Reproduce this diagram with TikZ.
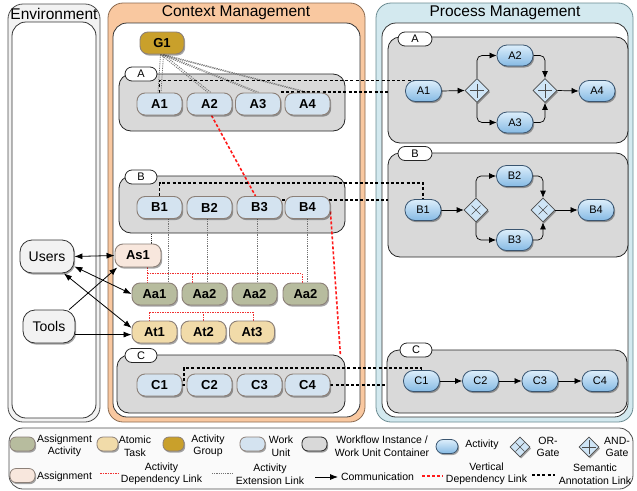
\documentclass[tikz,border=0pt]{standalone}
\usepackage{fontspec}
\setmainfont{Liberation Sans}
\usetikzlibrary{shapes.geometric,shadows,arrows.meta,calc}
\definecolor{envfill}{HTML}{F2F2F2}
\definecolor{ctxfill}{HTML}{F9C8A0}
\definecolor{ctxbord}{HTML}{8B6A50}
\definecolor{prcfill}{HTML}{D3E9EF}
\definecolor{prcbord}{HTML}{6A8A90}
\definecolor{contfill}{HTML}{D9D9D9}
\definecolor{wuc}{HTML}{D4E3F0}
\definecolor{cnb}{HTML}{8C8078}
\definecolor{aac}{HTML}{B7BC9E}
\definecolor{atc}{HTML}{F1DBA9}
\definecolor{grpc}{HTML}{C9A02B}
\definecolor{asc}{HTML}{F8E7DD}
\definecolor{pntop}{HTML}{DCEEFB}
\definecolor{pnbot}{HTML}{86BAE4}
\definecolor{pnbord}{HTML}{3A5570}
\definecolor{gtc}{HTML}{CFE5F6}
\definecolor{vred}{HTML}{FF1A1A}
\definecolor{dred}{HTML}{F03030}
\pgfdeclarelayer{bg}
\pgfdeclarelayer{mid}
\pgfsetlayers{bg,mid,main}
\begin{document}
\begin{tikzpicture}[x=1pt,y=-1pt,
  shd/.style={drop shadow={shadow xshift=1.2pt,shadow yshift=-1.6pt,opacity=0.35,fill=black}},
  cn/.style={draw=cnb,line width=0.9pt,rounded corners=8pt,minimum width=45pt,minimum height=22pt,inner sep=1pt,font=\fontsize{13}{13}\selectfont\bfseries,shd},
  wustyle/.style={cn,fill=wuc},
  aastyle/.style={cn,fill=aac},
  atstyle/.style={cn,fill=atc},
  asstyle/.style={cn,fill=asc,minimum width=46pt,minimum height=23pt},
  grpstyle/.style={cn,fill=grpc,minimum width=44pt},
  envnode/.style={draw=black!80,line width=0.8pt,fill=envfill,rounded corners=12pt,minimum height=33pt,font=\fontsize{14}{14}\selectfont,shd},
  cont/.style={draw=black!85,line width=0.8pt,fill=contfill,rounded corners=12pt,inner sep=0pt},
  tabstyle/.style={draw=black!85,line width=0.8pt,fill=white,rounded corners=7pt,minimum width=32pt,minimum height=14pt,inner sep=0pt,font=\fontsize{11}{11}\selectfont},
  pn/.style={draw=pnbord,line width=0.8pt,rounded corners=10pt,minimum width=36pt,minimum height=21pt,inner sep=1pt,top color=pntop,bottom color=pnbot,font=\fontsize{11}{11}\selectfont,shd},
  gate/.style={diamond,draw=black!70,line width=0.7pt,fill=gtc,minimum width=24pt,minimum height=24pt,inner sep=0pt,shd},
  andg/.style={gate,path picture={
     \draw[line width=0.6pt] ([xshift=-7pt]path picture bounding box.center) -- ([xshift=7pt]path picture bounding box.center);
     \draw[line width=0.6pt] ([yshift=-7pt]path picture bounding box.center) -- ([yshift=7pt]path picture bounding box.center);}},
  org/.style={gate,path picture={
     \draw[line width=0.6pt] ([shift={(-4.5pt,-4.5pt)}]path picture bounding box.center) -- ([shift={(4.5pt,4.5pt)}]path picture bounding box.center);
     \draw[line width=0.6pt] ([shift={(-4.5pt,4.5pt)}]path picture bounding box.center) -- ([shift={(4.5pt,-4.5pt)}]path picture bounding box.center);}},
  title/.style={font=\fontsize{15.5}{16}\selectfont},
  sem/.style={line width=1.6pt,dash pattern=on 3pt off 2.2pt,black},
  vdep/.style={line width=1.6pt,dash pattern=on 3pt off 2pt,vred},
  dep/.style={line width=0.8pt,dash pattern=on 1.5pt off 1pt,dred},
  ext/.style={line width=0.8pt,dash pattern=on 1.2pt off 1pt,black!55},
  comm/.style={line width=0.8pt,black},
  flow/.style={line width=0.7pt,-{Latex[length=7pt,width=6pt]}},
  lsw/.style={draw=cnb,line width=0.8pt,rounded corners=6pt,minimum width=25pt,minimum height=14pt,inner sep=0pt,shd},
  ltxt/.style={align=center,font=\fontsize{10.5}{12.5}\selectfont}
]
\useasboundingbox (0,0) rectangle (637,490);

\begin{pgfonlayer}{bg}
  % panels
  \draw[draw=black!70,fill=envfill,line width=0.8pt,rounded corners=15pt] (8,4) rectangle (100,422);
  \draw[draw=black!80,fill=white,line width=0.8pt,rounded corners=14pt] (12,22) rectangle (96,418);
  \draw[draw=ctxbord,fill=ctxfill,line width=0.8pt,rounded corners=15pt] (108,3) rectangle (365,422);
  \draw[draw=black!80,fill=white,line width=0.8pt,rounded corners=14pt] (113,23) rectangle (360,417);
  \draw[draw=prcbord,fill=prcfill,line width=0.8pt,rounded corners=15pt] (376,3) rectangle (633,422);
  \draw[draw=black!80,fill=white,line width=0.8pt,rounded corners=14pt] (382,23) rectangle (628,417);
  \draw[draw=black!70,fill=white!98!black,line width=0.8pt,rounded corners=14pt] (9,428) rectangle (633,489);
  % containers
  \node[cont,minimum width=226pt,minimum height=57pt] (Ac) at (232,102.5) {};
  \node[cont,minimum width=226pt,minimum height=57pt] (Bc) at (232,204.5) {};
  \node[cont,minimum width=228pt,minimum height=58pt] (Cc) at (231,384) {};
  \node[cont,minimum width=240pt,minimum height=106pt] (PAc) at (508,90) {};
  \node[cont,minimum width=240pt,minimum height=104pt] (PBc) at (508,205) {};
  \node[cont,minimum width=240pt,minimum height=63pt] (PCc) at (507,381.5) {};
  \node[tabstyle] (Atab) at (141,74) {A};
  \node[tabstyle] (Btab) at (141,177) {B};
  \node[tabstyle] (Ctab) at (141,355.5) {C};
  \node[tabstyle,minimum width=34pt] (PAtab) at (415,39) {A};
  \node[tabstyle,minimum width=34pt] (PBtab) at (415,153.5) {B};
  \node[tabstyle,minimum width=32pt] (PCtab) at (416,350) {C};
\end{pgfonlayer}

% titles
\node[title] (tenv) at (54,14) {Environment};
\node[title] (tctx) at (236,13) {Context Management};
\node[title] (tprc) at (505,13) {Process Management};

% environment
\node[envnode,minimum width=54pt] (users) at (47,256.5) {Users};
\node[envnode,minimum width=52pt] (tools) at (49,326.5) {Tools};

% context management
\node[grpstyle] (G1) at (162,43) {G1};
\node[wustyle] (A1) at (159.5,104) {A1};
\node[wustyle] (A2) at (209.5,104) {A2};
\node[wustyle] (A3) at (258,104) {A3};
\node[wustyle] (A4) at (307.5,104) {A4};
\node[wustyle] (B1) at (159.5,207.5) {B1};
\node[wustyle] (B2) at (209.5,207.5) {B2};
\node[wustyle] (B3) at (259.5,207.5) {B3};
\node[wustyle] (B4) at (307.5,207.5) {B4};
\node[asstyle] (As1) at (138,255.5) {As1};
\node[aastyle] (Aa1) at (154.5,294) {Aa1};
\node[aastyle] (Aa2) at (204.5,294) {Aa2};
\node[aastyle] (Aa3) at (254.5,294) {Aa2};
\node[aastyle] (Aa4) at (305.5,294) {Aa2};
\node[atstyle] (At1) at (154.5,332) {At1};
\node[atstyle] (At2) at (203.5,332) {At2};
\node[atstyle] (At3) at (252,332) {At3};
\node[wustyle] (C1) at (159.5,385) {C1};
\node[wustyle] (C2) at (209.5,385) {C2};
\node[wustyle] (C3) at (259.5,385) {C3};
\node[wustyle] (C4) at (307.5,385) {C4};

% process management
\node[pn] (PA1) at (423.5,91) {A1};
\node[andg] (ga1) at (477,90.5) {};
\node[pn] (PA2) at (515,55.5) {A2};
\node[pn] (PA3) at (515,122.5) {A3};
\node[andg] (ga2) at (545,90.5) {};
\node[pn] (PA4) at (597,91) {A4};
\node[pn] (PB1) at (423,210) {B1};
\node[org] (gb1) at (476,210) {};
\node[pn] (PB2) at (514.5,176) {B2};
\node[pn] (PB3) at (514.5,240) {B3};
\node[org] (gb2) at (543,210) {};
\node[pn] (PB4) at (596,210) {B4};
\node[pn] (PC1) at (421.5,381) {C1};
\node[pn] (PC2) at (480.5,381) {C2};
\node[pn] (PC3) at (540,381) {C3};
\node[pn] (PC4) at (600,381) {C4};

% legend nodes
\node[lsw,fill=aac] (lg1) at (22.5,444) {};
\node[ltxt] (lt1) at (64.5,446) {Assignment\\Activity};
\node[lsw,fill=atc,minimum width=21pt] (lg2) at (107.5,444) {};
\node[ltxt] (lt2) at (135,446) {Atomic\\Task};
\node[lsw,fill=grpc,minimum width=21pt] (lg3) at (173.5,444) {};
\node[ltxt] (lt3) at (208,446) {Activity\\Group};
\node[lsw,fill=wuc] (lg4) at (252.5,444) {};
\node[ltxt] (lt4) at (281,446) {Work\\Unit};
\node[lsw,fill=contfill,draw=black!85] (lg5) at (314.5,444) {};
\node[ltxt] (lt5) at (382,446) {Workflow Instance /\\Work Unit Container};
\node[pn,minimum width=22pt,minimum height=14pt,rounded corners=7pt,inner sep=0pt] (lg6) at (447,446.5) {};
\node[ltxt] (lt6) at (482,445) {Activity};
\node[org,minimum width=20pt,minimum height=20pt] (lg7) at (520,447) {};
\node[ltxt] (lt7) at (548,447) {OR-\\Gate};
\node[andg,minimum width=20pt,minimum height=20pt] (lg8) at (589,447) {};
\node[ltxt] (lt8) at (617,447) {AND-\\Gate};
\node[lsw,fill=asc] (lg9) at (22.5,475.5) {};
\node[ltxt] (lt9) at (64.5,477) {Assignment};
\node[ltxt] (lt10) at (161.5,474) {Activity\\Dependency Link};
\node[ltxt] (lt11) at (270,474) {Activity\\Extension Link};
\node[ltxt] (lt12) at (377.5,477) {Communication};
\node[ltxt] (lt13) at (486.5,474) {Vertical\\Dependency Link};
\node[ltxt] (lt14) at (595,474) {Semantic\\Annotation Link};
\coordinate (ld1a) at (100,473); \coordinate (ld1b) at (118,473);
\coordinate (ld2a) at (212,473); \coordinate (ld2b) at (233,473);
\coordinate (ld3a) at (315,477); \coordinate (ld3b) at (338,477);
\coordinate (ld4a) at (422,476); \coordinate (ld4b) at (443,476);
\coordinate (ld5a) at (532,475); \coordinate (ld5b) at (555,475);

% bus coordinates
\coordinate (busA) at ([xshift=9pt,yshift=-6pt]As1.south);
\coordinate (busT) at ([xshift=-5.5pt,yshift=-7pt]Aa1.south);
\coordinate (a3s) at ([yshift=0.5pt]A3.north east);
\coordinate (b3s) at ([yshift=-4pt]B3.north east);

\begin{pgfonlayer}{mid}
  % G1 extension links
  \foreach \t in {A1,A2,A3,A4}{
    \draw[ext] ([xshift=-1.5pt]G1.south) -- ([xshift=-1.5pt]\t.north);
    \draw[ext] ([xshift=1.5pt]G1.south) -- ([xshift=1.5pt]\t.north);
  }
  % extension links B -> Aa
  \draw[ext] ([xshift=8.5pt]B1.south) -- ([xshift=8.5pt]B1.south |- Aa1.north);
  \draw[ext] ([xshift=-2.5pt]B2.south) -- ([xshift=-2.5pt]B2.south |- Aa2.north);
  \draw[ext] ([xshift=-2.5pt]B3.south) -- ([xshift=-2.5pt]B3.south |- Aa3.north);
  \draw[ext] ([xshift=-0.5pt]B4.south) -- ([xshift=-0.5pt]B4.south |- Aa4.north);
  \draw[ext,black!80] ([xshift=13pt]As1.north) -- ([xshift=13pt]As1.north |- Bc.south);
  % activity dependency links
  \draw[dep] ([xshift=9pt]As1.south) -- ([xshift=9pt]As1.south |- Aa1.north);
  \draw[dep] ([xshift=-12.5pt]Aa2.north) |- (busA);
  \draw[dep] ([xshift=-3.5pt]Aa4.north) |- (busA);
  \draw[dep] (busT) -- (busT |- At1.north);
  \draw[dep] ([xshift=-0.5pt]At2.north) |- (busT);
  \draw[dep] ([xshift=1pt]At3.north) |- (busT);
  % vertical dependency links
  \draw[vdep] ([xshift=2pt]A2.south) -- ([xshift=-4pt]B3.north);
  \draw[vdep] ([yshift=-4pt]B4.east) -- ([xshift=-5pt]Cc.north east);
  % semantic annotation links
  \draw[sem] (A1.north) -- ++(0,-12) -| (PA1.north);
  \draw[sem] (a3s) -- (a3s -| PAc.west);
  \draw[sem] (B1.north) -- ++(0,-13) -| (PB1.north);
  \draw[sem] (b3s) -- (b3s -| PBc.west);
  \draw[sem] (C1.east) -| ++(1.5,-17) -| (PC1.north);
  \draw[sem] (C4.east) -- (C4.east -| PCc.west);
  % communication
  \draw[comm,{Latex[length=8pt,width=6pt]}-{Latex[length=8pt,width=6pt]}] (users.east) -- (As1.west);
  \draw[comm,{Latex[length=8pt,width=6pt]}-{Latex[length=8pt,width=6pt]}] (users.-20) -- (Aa1.west);
  \draw[comm,{Latex[length=8pt,width=6pt]}-{Latex[length=8pt,width=6pt]}] (users.-45) -- (At1.170);
  \draw[comm,-{Latex[length=8pt,width=6pt]}] (tools.40) -- (As1.-150);
  \draw[comm,-{Latex[length=8pt,width=6pt]}] (tools.-17) -- (tools.-17 -| At1.west);
  % process flows
  \draw[flow] (PA1.east) -- (ga1.west);
  \draw[flow,rounded corners=5pt] (ga1.north) |- (PA2.west);
  \draw[flow,rounded corners=5pt] (ga1.south) |- (PA3.west);
  \draw[flow,rounded corners=5pt] (PA2.east) -| (ga2.north);
  \draw[flow,rounded corners=5pt] (PA3.east) -| (ga2.south);
  \draw[flow] (ga2.east) -- (PA4.west);
  \draw[flow] (PB1.east) -- (gb1.west);
  \draw[flow,rounded corners=5pt] (gb1.north) |- (PB2.west);
  \draw[flow,rounded corners=5pt] (gb1.south) |- (PB3.west);
  \draw[flow,rounded corners=5pt] (PB2.east) -| (gb2.north);
  \draw[flow,rounded corners=5pt] (PB3.east) -| (gb2.south);
  \draw[flow] (gb2.east) -- (PB4.west);
  \draw[flow] (PC1.east) -- (PC2.west);
  \draw[flow] (PC2.east) -- (PC3.west);
  \draw[flow] (PC3.east) -- (PC4.west);
  % legend lines
  \draw[dep] (ld1a) -- (ld1b);
  \draw[ext] (ld2a) -- (ld2b);
  \draw[comm,-{Latex[length=8pt,width=6pt]}] (ld3a) -- (ld3b);
  \draw[vdep,line width=1.3pt] (ld4a) -- (ld4b);
  \draw[sem,line width=1.3pt] (ld5a) -- (ld5b);
\end{pgfonlayer}
\end{tikzpicture}
\end{document}
